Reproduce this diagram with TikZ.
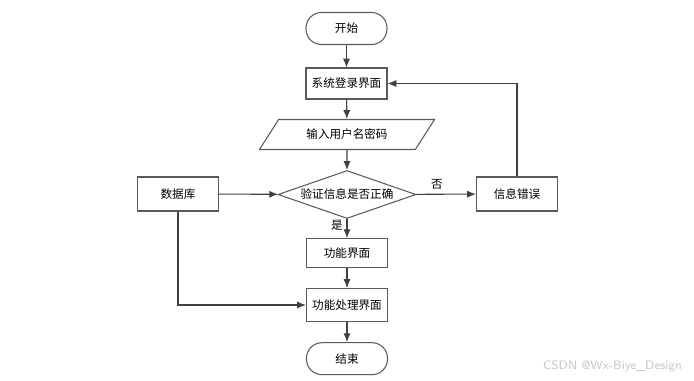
\documentclass[tikz,border=0pt]{standalone}
\usepackage{fontspec}
\usepackage{tikz}
\usetikzlibrary{arrows.meta, positioning, shapes.geometric}
\newfontfamily\cjkfont{Noto Sans CJK SC}
\definecolor{flowline}{RGB}{64, 64, 64}
\definecolor{flowborder}{RGB}{90, 90, 90}

\begin{document}
\begin{tikzpicture}[x=0.02cm, y=-0.02cm,
    box/.style={rectangle, draw=flowborder, semithick, minimum width=1.62cm, minimum height=0.62cm, inner sep=1pt},
    terminal/.style={rectangle, rounded corners=0.31cm, draw=flowborder, semithick, minimum width=1.62cm, minimum height=0.64cm},
    io/.style={trapezium, trapezium left angle=60, trapezium right angle=120, trapezium stretches=true, draw=flowborder, semithick, minimum width=3.52cm, minimum height=0.6cm},
    decision/.style={diamond, draw=flowborder, semithick, aspect=2.875, inner sep=0pt, minimum width=2.76cm, minimum height=0.96cm},
    arr/.style={-{Latex[length=5pt, width=4pt]}, flowline, semithick},
    every node/.style={font=\cjkfont\fontsize{6.6}{8}\selectfont}
]
\useasboundingbox (0, 0) rectangle (694, 380);

\node[terminal] (start) at (346.5, 28.5) {开始};
\node[box] (login) at (346.5, 83.5) {系统登录界面};
\node[io] (input) at (347, 134.5) {输入用户名密码};
\node[decision] (check) at (347, 194.5) {验证信息是否正确};
\node[box, minimum height=0.68cm] (db) at (178, 194) {数据库};
\node[box, minimum height=0.68cm] (err) at (517, 194) {信息错误};
\node[box, minimum height=0.57cm] (func) at (347, 253) {功能界面};
\node[box, minimum height=0.66cm] (proc) at (347, 305) {功能处理界面};
\node[terminal] (stop) at (347, 358.7) {结束};

\foreach \i/\j in {start/login, login/input, input/check, check/func, func/proc, proc/stop, db/check, check/err} {
    \draw[arr] (\i) -- (\j);
}

% loop back and database feed
\draw[arr] (err.north) |- (login.east);
\draw[arr] (db.south) |- (proc.west);

% branch labels
\node (no) at (437, 184) {否};
\node (yes) at (337, 225) {是};

% watermark
\node[font=\sffamily\fontsize{7}{8}\selectfont, text=gray!45, anchor=east] (mark) at (688, 366) {CSDN @Wx-Biye\_Design};

\end{tikzpicture}
\end{document}
